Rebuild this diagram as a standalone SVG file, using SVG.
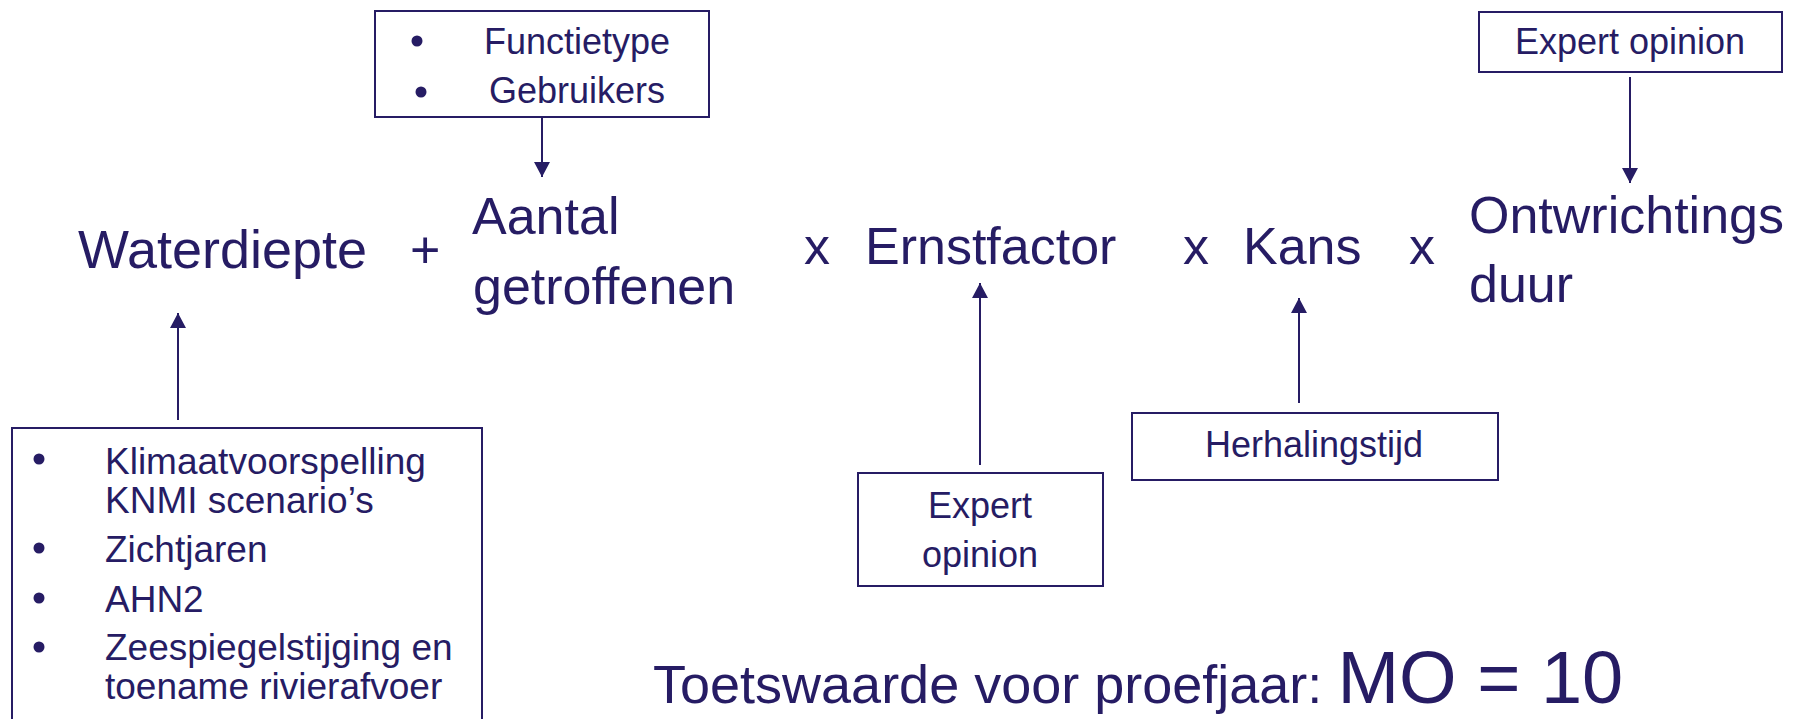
<svg xmlns="http://www.w3.org/2000/svg" width="1805" height="719" viewBox="0 0 1805 719">
<style>
text{font-family:"Liberation Sans",Arial,sans-serif;fill:#261c64}
.big{font-size:52px}
.sm{font-size:36px}
.box{fill:#fff;stroke:#261c64;stroke-width:2}
.conn line{stroke:#261c64;stroke-width:2}
.dot{fill:#261c64}
</style>
<defs>
<marker id="ah" markerUnits="userSpaceOnUse" markerWidth="16" markerHeight="16" refX="15" refY="8" orient="auto">
<path d="M0,0 L15,8 L0,16 Z" fill="#261c64"/>
</marker>
</defs>
<rect width="1805" height="719" fill="#fff"/>

<g id="formula">
<text class="big" x="78" y="268" style="font-size:54px">Waterdiepte</text>
<text class="big" x="410" y="268">+</text>
<text class="big" x="472" y="234">Aantal</text>
<text class="big" x="473" y="304">getroffenen</text>
<text class="big" x="804" y="264">x</text>
<text class="big" x="865" y="264">Ernstfactor</text>
<text class="big" x="1183" y="264">x</text>
<text class="big" x="1243" y="264">Kans</text>
<text class="big" x="1409" y="264">x</text>
<text class="big" x="1469" y="233">Ontwrichtings</text>
<text class="big" x="1469" y="302">duur</text>
</g>

<g id="node-functietype">
<rect class="box" x="375" y="11" width="334" height="106"/>
<circle class="dot" cx="417" cy="41" r="5.5"/>
<text class="sm" x="577" y="54" text-anchor="middle">Functietype</text>
<circle class="dot" cx="421" cy="92" r="5.5"/>
<text class="sm" x="577" y="103" text-anchor="middle">Gebruikers</text>
</g>

<g id="node-expert-top">
<rect class="box" x="1479" y="12" width="303" height="60"/>
<text class="sm" x="1630" y="54" text-anchor="middle">Expert opinion</text>
</g>

<g id="node-klimaat">
<rect class="box" x="12" y="428" width="470" height="300"/>
<circle class="dot" cx="39" cy="459" r="5.5"/>
<text class="sm" x="105" y="474" style="font-size:37px">Klimaatvoorspelling</text>
<text class="sm" x="105" y="513" style="font-size:37px">KNMI scenario’s</text>
<circle class="dot" cx="39" cy="548" r="5.5"/>
<text class="sm" x="105" y="562" style="font-size:37px">Zichtjaren</text>
<circle class="dot" cx="39" cy="598" r="5.5"/>
<text class="sm" x="105" y="612" style="font-size:37px">AHN2</text>
<circle class="dot" cx="39" cy="647" r="5.5"/>
<text class="sm" x="105" y="660" style="font-size:37px">Zeespiegelstijging en</text>
<text class="sm" x="105" y="699" style="font-size:37px">toename rivierafvoer</text>
</g>

<g id="node-expert-bottom">
<rect class="box" x="858" y="473" width="245" height="113"/>
<text class="sm" x="980" y="518" text-anchor="middle">Expert</text>
<text class="sm" x="980" y="567" text-anchor="middle">opinion</text>
</g>

<g id="node-herhalingstijd">
<rect class="box" x="1132" y="413" width="366" height="67"/>
<text class="sm" x="1314" y="457" text-anchor="middle">Herhalingstijd</text>
</g>

<g id="toetswaarde">
<text class="big" x="653" y="703" style="font-size:54px">Toetswaarde voor proefjaar: <tspan style="font-size:74px">MO = 10</tspan></text>
</g>

<g class="conn" id="connectors">
<line x1="542" y1="117" x2="542" y2="177" marker-end="url(#ah)"/>
<line x1="1630" y1="77" x2="1630" y2="183" marker-end="url(#ah)"/>
<line x1="178" y1="420" x2="178" y2="313" marker-end="url(#ah)"/>
<line x1="980" y1="465" x2="980" y2="283" marker-end="url(#ah)"/>
<line x1="1299" y1="403" x2="1299" y2="298" marker-end="url(#ah)"/>
</g>
</svg>
